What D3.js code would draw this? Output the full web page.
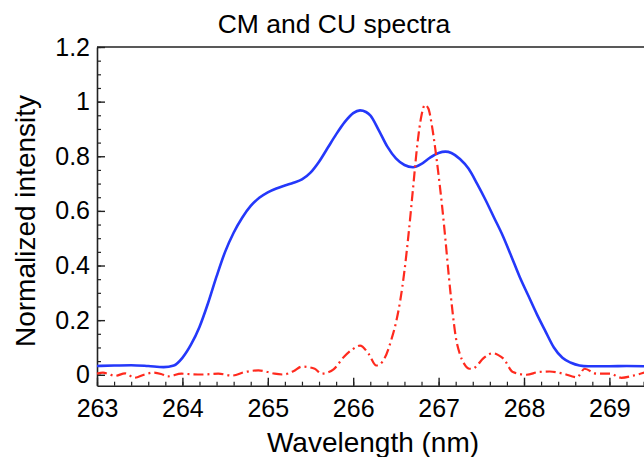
<!DOCTYPE html>
<html>
<head>
<meta charset="utf-8">
<script src="https://cdn.jsdelivr.net/npm/d3@7"></script>
<style>
  body { margin: 0; background: #fff; }
  svg { display: block; font-family: "Liberation Sans", Arial, Helvetica, sans-serif; }
</style>
</head>
<body>
<div id="chart"></div>
<script>
// CM spectrum (solid blue)
const cmWave = [263.00, 263.20, 263.40, 263.60, 263.78, 263.90, 264.00, 264.10, 264.20, 264.30,
  264.40, 264.50, 264.60, 264.70, 264.80, 264.90, 265.00, 265.10, 265.20, 265.30,
  265.40, 265.50, 265.60, 265.70, 265.80, 265.90, 266.00, 266.08, 266.15, 266.20,
  266.30, 266.40, 266.50, 266.60, 266.70, 266.80, 266.90, 267.00, 267.08, 267.15,
  267.25, 267.35, 267.45, 267.55, 267.65, 267.75, 267.85, 267.95, 268.05, 268.15,
  268.25, 268.35, 268.45, 268.55, 268.65, 268.75, 269.00, 269.20, 269.45];
const cmValue = [0.032, 0.034, 0.035, 0.032, 0.028, 0.034, 0.062, 0.110, 0.175, 0.262,
  0.360, 0.450, 0.520, 0.575, 0.618, 0.648, 0.668, 0.682, 0.693, 0.703,
  0.715, 0.740, 0.780, 0.830, 0.880, 0.925, 0.958, 0.968, 0.962, 0.950,
  0.895, 0.835, 0.792, 0.768, 0.760, 0.772, 0.795, 0.812, 0.817, 0.812,
  0.790, 0.755, 0.700, 0.640, 0.575, 0.510, 0.435, 0.358, 0.290, 0.222,
  0.160, 0.100, 0.062, 0.044, 0.034, 0.031, 0.031, 0.032, 0.031];

// CU spectrum (red dash-dot)
const cuWave = [263.00, 263.07, 263.14, 263.21, 263.33, 263.44, 263.55, 263.66, 263.75, 263.83,
  263.99, 264.10, 264.23, 264.42, 264.58, 264.73, 264.89, 265.00, 265.08, 265.18,
  265.30, 265.40, 265.55, 265.63, 265.70, 265.77, 265.89, 266.00, 266.08, 266.18,
  266.27, 266.32, 266.37, 266.45, 266.50, 266.55, 266.60, 266.65, 266.70, 266.75,
  266.80, 266.84, 266.88, 266.92, 266.96, 267.00, 267.04, 267.08, 267.12, 267.16,
  267.20, 267.25, 267.30, 267.36, 267.40, 267.46, 267.52, 267.64, 267.70, 267.76,
  267.87, 268.03, 268.17, 268.30, 268.46, 268.62, 268.71, 268.85, 269.01, 269.14,
  269.28, 269.45];
const cuValue = [0.004, 0.008, 0.002, -0.004, 0.005, -0.011, 0.000, 0.008, 0.003, -0.006,
  0.004, 0.002, 0.001, 0.004, -0.003, 0.010, 0.016, 0.010, 0.004, 0.001,
  0.013, 0.030, 0.022, 0.004, 0.008, 0.020, 0.065, 0.095, 0.107, 0.077,
  0.034, 0.040, 0.062, 0.132, 0.190, 0.270, 0.380, 0.520, 0.680, 0.840,
  0.950, 0.988, 0.975, 0.915, 0.830, 0.730, 0.620, 0.495, 0.360, 0.240,
  0.140, 0.075, 0.040, 0.022, 0.022, 0.038, 0.059, 0.079, 0.072, 0.059,
  0.010, 0.000, 0.010, 0.012, 0.004, -0.009, 0.022, 0.004, 0.004, -0.011,
  -0.003, 0.012];

const xTicks = [263, 264, 265, 266, 267, 268, 269];
const yTicks = [0, 0.2, 0.4, 0.6, 0.8, 1, 1.2];

const width = 644, height = 457;
const plotLeft = 97, plotTop = 47, plotBottom = 385.7;

const svg = d3.select("#chart").append("svg")
  .attr("width", width)
  .attr("height", height);

// the plot box runs past the right edge of the picture
const x = d3.scaleLinear().domain([263, 270]).range([plotLeft, plotLeft + 7 * 85.4]);
const y = d3.scaleLinear().domain([-0.04, 1.2]).range([plotBottom, plotTop]);

// minor ticks
svg.append("g")
  .attr("transform", `translate(0,${plotBottom})`)
  .call(d3.axisBottom(x).tickValues(d3.range(263, 269.5, 0.2)).tickSize(-4).tickFormat(""))
  .call(g => g.select(".domain").remove())
  .call(g => g.selectAll("line").attr("stroke", "#222").attr("stroke-width", 1.2));

svg.append("g")
  .attr("transform", `translate(${plotLeft},0)`)
  .call(d3.axisLeft(y).tickValues(d3.range(0, 1.201, 0.05)).tickSize(-4).tickFormat(""))
  .call(g => g.select(".domain").remove())
  .call(g => g.selectAll("line").attr("stroke", "#222").attr("stroke-width", 1.2));

// major axes
const xAxis = svg.append("g")
  .attr("transform", `translate(0,${plotBottom})`)
  .call(d3.axisBottom(x).tickValues(xTicks).tickSize(-8).tickSizeOuter(0).tickPadding(13.5).tickFormat(d3.format("d")));

const yAxis = svg.append("g")
  .attr("transform", `translate(${plotLeft},0)`)
  .call(d3.axisLeft(y).tickValues(yTicks).tickSize(-8).tickSizeOuter(0).tickPadding(7).tickFormat(d3.format("~g")));

[xAxis, yAxis].forEach(g => {
  g.select(".domain").attr("stroke", "#222").attr("stroke-width", 1.6);
  g.selectAll(".tick line").attr("stroke", "#222").attr("stroke-width", 1.4);
  g.selectAll(".tick text")
    .attr("fill", "#000")
    .style("font-size", "25px")
    .style("font-family", "'Liberation Sans', Arial, Helvetica, sans-serif");
});

// top border
svg.append("line")
  .attr("x1", plotLeft).attr("x2", width)
  .attr("y1", plotTop).attr("y2", plotTop)
  .attr("stroke", "#222")
  .attr("stroke-width", 1.6);

const line = d3.line()
  .x(d => x(d[0]))
  .y(d => y(d[1]))
  .curve(d3.curveMonotoneX);

svg.append("path")
  .datum(d3.zip(cmWave, cmValue))
  .attr("fill", "none")
  .attr("stroke", "#2438fa")
  .attr("stroke-width", 2.6)
  .attr("d", line);

svg.append("path")
  .datum(d3.zip(cuWave, cuValue))
  .attr("fill", "none")
  .attr("stroke", "#ff2a1e")
  .attr("stroke-width", 2.2)
  .attr("stroke-dasharray", "10,4,2,4")
  .attr("d", line);

// Title and labels
svg.append("text")
  .attr("x", 334)
  .attr("y", 33)
  .attr("text-anchor", "middle")
  .style("font-size", "26.5px")
  .text("CM and CU spectra");

svg.append("text")
  .attr("x", 373)
  .attr("y", 452)
  .attr("text-anchor", "middle")
  .style("font-size", "28px")
  .text("Wavelength (nm)");

svg.append("text")
  .attr("transform", "translate(35,221) rotate(-90)")
  .attr("text-anchor", "middle")
  .style("font-size", "28px")
  .text("Normalized intensity");
</script>
</body>
</html>
